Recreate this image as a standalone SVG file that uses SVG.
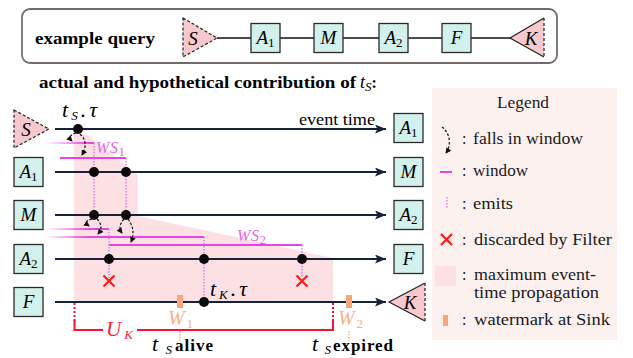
<svg xmlns="http://www.w3.org/2000/svg" width="633" height="358" viewBox="0 0 633 358">
<style>
.b{font-weight:bold}
.lbl{font-size:19px;font-style:italic;text-anchor:middle}
.sub{font-size:13px;font-style:normal}
.subi{font-size:13px;font-style:italic}
.box{fill:#d3f1ec;stroke:#2a2a2a;stroke-width:1.3}
.tri{fill:#f7c9ce;stroke:none}
.dsh{fill:none;stroke:#222;stroke-width:1.2;stroke-dasharray:3 2}
.sol{fill:none;stroke:#222;stroke-width:1.2}
.row{stroke:#13233a;stroke-width:2.2;fill:none}
.qline{stroke:#111;stroke-width:1.6}
.win{stroke:#e845e0;stroke-width:2;fill:none}
.emit{stroke:#e860e0;stroke-width:1.2;stroke-dasharray:1.5 1.5;fill:none}
.fall{stroke:#111;stroke-width:1.2;stroke-dasharray:2.5 1.8;fill:none}
.x{stroke:#ff1a1a;stroke-width:2.2}
.dot{fill:#0a0a0a}
.wm{fill:#f8a57a}
.wml{fill:#f8b08a;font-style:italic;font-size:20px}
.wmd{stroke:#f8a57a;stroke-width:1.3;stroke-dasharray:1.5 1.5}
.red{stroke:#ff1030;stroke-width:2;fill:none}
.leg{font-size:16px;fill:#1a1a1a}
.pink{fill:#fde0e3}
.mag{fill:#e868e8}
</style>
<defs>
<marker id="ah" markerUnits="userSpaceOnUse" viewBox="0 0 11 9" refX="11" refY="4.5" markerWidth="11" markerHeight="9" orient="auto">
<path d="M0,0 L11,4.5 L0,9 L2.5,4.5 z" fill="#13233a"/>
</marker>
<marker id="sh" markerUnits="userSpaceOnUse" viewBox="0 0 6 6" refX="5" refY="3" markerWidth="6" markerHeight="6" orient="auto">
<path d="M0,0 L6,3 L0,6 z" fill="#111"/>
</marker>
<linearGradient id="fade" gradientUnits="userSpaceOnUse" x1="45" y1="0" x2="90" y2="0">
<stop offset="0" stop-color="#e845e0" stop-opacity="0"/>
<stop offset="1" stop-color="#e845e0" stop-opacity="1"/>
</linearGradient>
</defs>

<g id="query">
<rect x="22" y="9" width="535" height="54" rx="8" fill="#fff" stroke="#756b6b" stroke-width="1.8"/>
<text font-family="Liberation Serif, serif" class="b" x="35" y="44" font-size="16" textLength="120" lengthAdjust="spacingAndGlyphs">example query</text>
<g id="q-connectors">
<line class="qline" x1="217" y1="38" x2="510" y2="38"/>
</g>
<g id="q-S"><polygon class="tri" points="183,18 217,38 183,57"/><polygon class="dsh" points="183,18 217,38 183,57"/><text font-family="Liberation Serif, serif" class="lbl" x="193" y="45">S</text></g>
<g id="q-A1"><rect class="box" x="251" y="23.5" width="29" height="29"/><text font-family="Liberation Serif, serif" class="lbl" x="265.5" y="44">A<tspan class="sub" dy="3">1</tspan></text></g>
<g id="q-M"><rect class="box" x="314" y="23.5" width="29" height="29"/><text font-family="Liberation Serif, serif" class="lbl" x="328.5" y="44">M</text></g>
<g id="q-A2"><rect class="box" x="379" y="23.5" width="29" height="29"/><text font-family="Liberation Serif, serif" class="lbl" x="393.5" y="44">A<tspan class="sub" dy="3">2</tspan></text></g>
<g id="q-F"><rect class="box" x="442" y="23.5" width="29" height="29"/><text font-family="Liberation Serif, serif" class="lbl" x="456.5" y="44">F</text></g>
<g id="q-K"><polygon class="tri" points="510,38 544,18 544,57"/><polyline class="sol" points="544,18 510,38 544,57"/><line class="dsh" x1="544" y1="18" x2="544" y2="57"/><text font-family="Liberation Serif, serif" class="lbl" x="531" y="45">K</text></g>
</g>

<text font-family="Liberation Serif, serif" class="b" x="39" y="88" font-size="16"><tspan textLength="317" lengthAdjust="spacingAndGlyphs">actual and hypothetical contribution of</tspan> <tspan font-weight="normal" font-style="italic" font-size="18">t</tspan><tspan class="subi" font-weight="normal" dy="3">S</tspan><tspan dy="-3">:</tspan></text>

<g id="legend">
<rect x="432" y="88" width="185" height="252" fill="#fdf1f0"/>
<text font-family="Liberation Serif, serif" class="leg" x="523" y="108" text-anchor="middle" textLength="52" lengthAdjust="spacingAndGlyphs">Legend</text>
<path class="fall" d="M442,127 C451,134 451,146 446,153" marker-end="url(#sh)"/>
<text font-family="Liberation Serif, serif" class="leg" x="462" y="144">:</text><text font-family="Liberation Serif, serif" class="leg" x="473" y="144" textLength="110" lengthAdjust="spacingAndGlyphs">falls in window</text>
<line class="win" x1="440" y1="172" x2="452" y2="172"/>
<text font-family="Liberation Serif, serif" class="leg" x="462" y="176">:</text><text font-family="Liberation Serif, serif" class="leg" x="473" y="176" textLength="55" lengthAdjust="spacingAndGlyphs">window</text>
<line class="emit" x1="447" y1="197" x2="447" y2="208"/>
<text font-family="Liberation Serif, serif" class="leg" x="462" y="209">:</text><text font-family="Liberation Serif, serif" class="leg" x="473" y="209" textLength="40" lengthAdjust="spacingAndGlyphs">emits</text>
<path class="x" d="M441,234 L452,245 M452,234 L441,245"/>
<text font-family="Liberation Serif, serif" class="leg" x="462" y="245">:</text><text font-family="Liberation Serif, serif" class="leg" x="474" y="245" textLength="138" lengthAdjust="spacingAndGlyphs">discarded by Filter</text>
<rect class="pink" x="435" y="266" width="21" height="20"/>
<text font-family="Liberation Serif, serif" class="leg" x="462" y="280">:</text><text font-family="Liberation Serif, serif" class="leg" x="474" y="280" textLength="122" lengthAdjust="spacingAndGlyphs">maximum event-</text>
<text font-family="Liberation Serif, serif" class="leg" x="474" y="298" textLength="125" lengthAdjust="spacingAndGlyphs">time propagation</text>
<rect class="wm" x="443" y="315" width="5" height="11"/>
<text font-family="Liberation Serif, serif" class="leg" x="462" y="325">:</text><text font-family="Liberation Serif, serif" class="leg" x="474" y="325" textLength="136" lengthAdjust="spacingAndGlyphs">watermark at Sink</text>
</g>

<polygon class="pink" points="74,134 86,134 138,175 138,216 333,258 333,302 74,302"/>

<g id="connectors">
<line class="row" x1="55" y1="129" x2="386" y2="129" marker-end="url(#ah)"/>
<line class="row" x1="55" y1="172" x2="386" y2="172" marker-end="url(#ah)"/>
<line class="row" x1="55" y1="215" x2="386" y2="215" marker-end="url(#ah)"/>
<line class="row" x1="55" y1="259" x2="386" y2="259" marker-end="url(#ah)"/>
<line class="row" x1="55" y1="302" x2="386" y2="302" marker-end="url(#ah)"/>
<text font-family="Liberation Serif, serif" x="299" y="125" font-size="16" textLength="76" lengthAdjust="spacingAndGlyphs">event time</text>

<line x1="45" y1="143" x2="94" y2="143" stroke="url(#fade)" stroke-width="2"/>
<line class="win" x1="60" y1="158" x2="126" y2="158"/>
<line x1="45" y1="229" x2="109" y2="229" stroke="url(#fade)" stroke-width="2"/>
<line x1="45" y1="237" x2="204" y2="237" stroke="url(#fade)" stroke-width="2"/>
<line class="win" x1="109" y1="245" x2="302" y2="245"/>
<text font-family="Liberation Serif, serif" class="mag" x="96" y="153" font-size="16" font-style="italic" textLength="29" lengthAdjust="spacing">WS<tspan class="sub mag" dy="3" font-size="11">1</tspan></text>
<text font-family="Liberation Serif, serif" class="mag" x="237" y="241" font-size="16" font-style="italic" textLength="29" lengthAdjust="spacing">WS<tspan class="sub mag" dy="3" font-size="11">2</tspan></text>

<line class="emit" x1="94" y1="143" x2="94" y2="215"/>
<line class="emit" x1="126" y1="158" x2="126" y2="215"/>
<line class="emit" x1="109" y1="229" x2="109" y2="278"/>
<line class="emit" x1="204" y1="237" x2="204" y2="302"/>
<line class="emit" x1="302" y1="245" x2="302" y2="278"/>

<path class="fall" d="M76,133 C69,135 69,138 72,141" marker-end="url(#sh)"/>
<path class="fall" d="M80,134 C87,140 86,148 82,155" marker-end="url(#sh)"/>
<path class="fall" d="M92,219 C85,221 85,223 89,226" marker-end="url(#sh)"/>
<path class="fall" d="M97,219 C102,224 102,229 98,234" marker-end="url(#sh)"/>
<path class="fall" d="M124,219 C119,225 119,229 122,233" marker-end="url(#sh)"/>
<path class="fall" d="M128,219 C134,227 134,235 131,242" marker-end="url(#sh)"/>

<path class="x" d="M103.5,275.5 L114.5,286.5 M114.5,275.5 L103.5,286.5"/>
<path class="x" d="M296.5,275.5 L307.5,286.5 M307.5,275.5 L296.5,286.5"/>

<circle class="dot" cx="78" cy="129" r="5"/>
<circle class="dot" cx="94" cy="172" r="5"/>
<circle class="dot" cx="126" cy="172" r="5"/>
<circle class="dot" cx="94" cy="215" r="5"/>
<circle class="dot" cx="126" cy="215" r="5"/>
<circle class="dot" cx="109" cy="259" r="5"/>
<circle class="dot" cx="204" cy="259" r="5"/>
<circle class="dot" cx="302" cy="259" r="5"/>
<circle class="dot" cx="204" cy="302" r="5"/>

<text font-family="Liberation Serif, serif" x="62" y="117" font-size="22" font-style="italic" textLength="35" lengthAdjust="spacing">t<tspan class="subi" dy="3" font-size="14">S</tspan><tspan dy="-3">.τ</tspan></text>
<text font-family="Liberation Serif, serif" x="210" y="296" font-size="22" font-style="italic" textLength="37" lengthAdjust="spacing">t<tspan class="subi" dy="3" font-size="14">K</tspan><tspan dy="-3">.τ</tspan></text>

<path class="red" d="M74.5,303 V321" stroke-dasharray="2 2"/>
<path class="red" d="M74.5,320 V330 H103 M137,330 H333 V320"/>
<path class="red" d="M333,321 V303" stroke-dasharray="2 2"/>
<text font-family="Liberation Serif, serif" x="106" y="336" font-size="21" font-style="italic" fill="#ff1a3a" textLength="27" lengthAdjust="spacing">U<tspan class="subi" dy="3" fill="#ff1a3a">K</tspan></text>

<rect class="wm" x="177" y="295" width="6" height="13"/>
<rect class="wm" x="346" y="295" width="6" height="13"/>
<text font-family="Liberation Serif, serif" class="wml" x="168" y="325" textLength="25" lengthAdjust="spacing">W<tspan class="sub" dy="3" fill="#f8b08a" font-size="14">1</tspan></text>
<text font-family="Liberation Serif, serif" class="wml" x="338" y="325" textLength="25" lengthAdjust="spacing">W<tspan class="sub" dy="3" fill="#f8b08a" font-size="14">2</tspan></text>
<line class="wmd" x1="180" y1="331" x2="180" y2="341"/>
<line class="wmd" x1="349" y1="331" x2="349" y2="341"/>
<text font-family="Liberation Serif, serif" x="152" y="351" font-size="22" font-style="italic" textLength="20" lengthAdjust="spacing">t<tspan class="subi" dy="3" font-size="14">S</tspan></text>
<text font-family="Liberation Serif, serif" class="b" x="175" y="351" font-size="17" textLength="38" lengthAdjust="spacing">alive</text>
<text font-family="Liberation Serif, serif" x="312" y="351" font-size="22" font-style="italic" textLength="19" lengthAdjust="spacing">t<tspan class="subi" dy="3" font-size="14">S</tspan></text>
<text font-family="Liberation Serif, serif" class="b" x="333" y="351" font-size="17" textLength="60" lengthAdjust="spacing">expired</text>
</g>

<g id="S"><polygon class="tri" points="14,110 49,129 14,148"/><polygon class="dsh" points="14,110 49,129 14,148"/><text font-family="Liberation Serif, serif" class="lbl" x="26" y="136">S</text></g>
<g id="A1-l"><rect class="box" x="14" y="157.5" width="29" height="29"/><text font-family="Liberation Serif, serif" class="lbl" x="28.5" y="178">A<tspan class="sub" dy="3">1</tspan></text></g>
<g id="M-l"><rect class="box" x="14" y="200.5" width="29" height="29"/><text font-family="Liberation Serif, serif" class="lbl" x="28.5" y="221">M</text></g>
<g id="A2-l"><rect class="box" x="14" y="244.5" width="29" height="29"/><text font-family="Liberation Serif, serif" class="lbl" x="28.5" y="265">A<tspan class="sub" dy="3">2</tspan></text></g>
<g id="F-l"><rect class="box" x="14" y="287.5" width="29" height="29"/><text font-family="Liberation Serif, serif" class="lbl" x="28.5" y="308">F</text></g>
<g id="A1-r"><rect class="box" x="394" y="113.5" width="29" height="29"/><text font-family="Liberation Serif, serif" class="lbl" x="408.5" y="134">A<tspan class="sub" dy="3">1</tspan></text></g>
<g id="M-r"><rect class="box" x="394" y="157.5" width="29" height="29"/><text font-family="Liberation Serif, serif" class="lbl" x="408.5" y="178">M</text></g>
<g id="A2-r"><rect class="box" x="394" y="200.5" width="29" height="29"/><text font-family="Liberation Serif, serif" class="lbl" x="408.5" y="221">A<tspan class="sub" dy="3">2</tspan></text></g>
<g id="F-r"><rect class="box" x="394" y="244.5" width="29" height="29"/><text font-family="Liberation Serif, serif" class="lbl" x="408.5" y="265">F</text></g>
<g id="K"><polygon class="tri" points="389,302 425,283 425,321"/><polyline class="sol" points="425,283 389,302 425,321"/><line class="dsh" x1="425" y1="283" x2="425" y2="321"/><text font-family="Liberation Serif, serif" class="lbl" x="410" y="309">K</text></g>
</svg>
